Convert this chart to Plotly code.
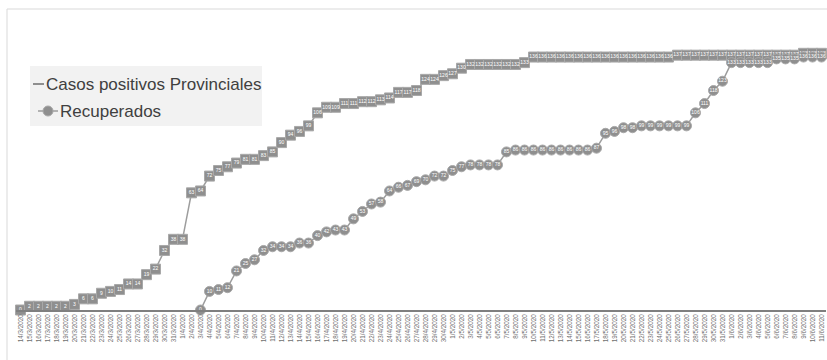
import pandas as pd
import plotly.graph_objects as go

# ---- data ----
dates = [f"{d.day}/{d.month}/{d.year}" for d in pd.date_range("2020-03-14", "2020-06-11")]

casos = [0, 2, 2, 2, 2, 2, 3, 6, 6, 9,
         10, 11, 14, 14, 19, 22, 32, 38, 38, 63,
         64, 72, 75, 77, 79, 81, 81, 83, 85, 90,
         94, 96, 99, 106, 109, 109, 111, 111, 112, 112,
         113, 114, 117, 117, 118, 124, 124, 126, 127, 130,
         132, 132, 132, 132, 132, 132, 133, 136, 136, 136,
         136, 136, 136, 136, 136, 136, 136, 136, 136, 136,
         136, 136, 136, 137, 137, 137, 137, 137, 137, 137,
         137, 137, 137, 137, 137, 137, 137, 138, 138, 138]

recuperados = [None] * 20 + [
    0, 10, 11, 12, 21, 25, 27, 32, 34, 34,
    34, 36, 36, 40, 42, 43, 43, 49, 53, 57,
    58, 64, 66, 67, 69, 70, 72, 72, 75, 77,
    78, 78, 78, 78, 85, 86, 86, 86, 86, 86,
    86, 86, 86, 86, 87, 95, 96, 98, 98, 99,
    99, 99, 99, 99, 99, 106, 111, 118, 123, 133,
    133, 133, 133, 133, 135, 135, 135, 136, 136, 136]

series_names = ["Casos positivos Provinciales", "Recuperados"]

# ---- layout helpers ----
W, H = 827, 360
ML, MR, MT, MB = 16, 1, 31, 50
PW, PH = W - ML - MR, H - MT - MB


def px(x):
    return (x - ML) / PW


def py(y):
    return (H - MB - y) / PH


idx = list(range(len(dates)))

fig = go.Figure()

fig.add_trace(go.Scatter(
    x=idx, y=casos, mode="lines+markers+text",
    text=[str(v) for v in casos], textposition="middle center",
    textfont=dict(size=5, color="white", family="Liberation Sans"),
    line=dict(color="#9d9d9d", width=1.5),
    marker=dict(symbol="square", size=10, color="#8f8f8f",
                line=dict(color="#a8a8a8", width=1)),
    cliponaxis=False, showlegend=False, name=series_names[0]))

fig.add_trace(go.Scatter(
    x=idx, y=recuperados, mode="lines+markers+text",
    text=["" if v is None else str(v) for v in recuperados], textposition="middle center",
    textfont=dict(size=5, color="white", family="Liberation Sans"),
    line=dict(color="#9d9d9d", width=1.5),
    marker=dict(symbol="circle", size=10, color="#8f8f8f",
                line=dict(color="#a8a8a8", width=1)),
    cliponaxis=False, showlegend=False, name=series_names[1], connectgaps=False))

shapes = [
    # outer chart frame
    dict(type="rect", xref="paper", yref="paper", x0=px(7), x1=px(840), y0=py(380), y1=py(9),
         line=dict(color="#d9d9d9", width=1), fillcolor="rgba(0,0,0,0)", layer="below"),
    # legend box
    dict(type="rect", xref="paper", yref="paper", x0=px(30), x1=px(262), y0=py(126), y1=py(66),
         line=dict(width=0), fillcolor="#f2f2f2", layer="below"),
    dict(type="line", xref="paper", yref="paper", x0=px(33), x1=px(44), y0=py(84), y1=py(84),
         line=dict(color="#8f8f8f", width=2)),
    dict(type="line", xref="paper", yref="paper", x0=px(38), x1=px(58), y0=py(111), y1=py(111),
         line=dict(color="#9d9d9d", width=1.5)),
    dict(type="circle", xref="paper", yref="paper", x0=px(43), x1=px(53), y0=py(116), y1=py(106),
         line=dict(color="#a8a8a8", width=1), fillcolor="#8f8f8f"),
]

annotations = [
    dict(xref="paper", yref="paper", x=px(44), y=py(84), text=series_names[0], showarrow=False,
         xanchor="left", yanchor="middle", font=dict(size=17, color="#404040", family="Liberation Sans")),
    dict(xref="paper", yref="paper", x=px(58), y=py(111), text=series_names[1], showarrow=False,
         xanchor="left", yanchor="middle", font=dict(size=17, color="#404040", family="Liberation Sans")),
]

fig.update_layout(
    width=W, height=H,
    margin=dict(l=ML, r=MR, t=MT, b=MB, pad=0),
    paper_bgcolor="white", plot_bgcolor="white",
    shapes=shapes, annotations=annotations,
    xaxis=dict(range=[-0.5, len(dates) - 0.5], tickmode="array", tickvals=idx, ticktext=dates,
               tickangle=-90, tickfont=dict(size=6.3, color="#6f6f6f", family="Liberation Sans"),
               showgrid=False, zeroline=False, showline=True, linecolor="#7f7f7f", linewidth=1.5,
               ticks="", fixedrange=True),
    yaxis=dict(range=[0, 150], visible=False, showgrid=False, zeroline=False, fixedrange=True),
)

fig.write_html("out.html")
